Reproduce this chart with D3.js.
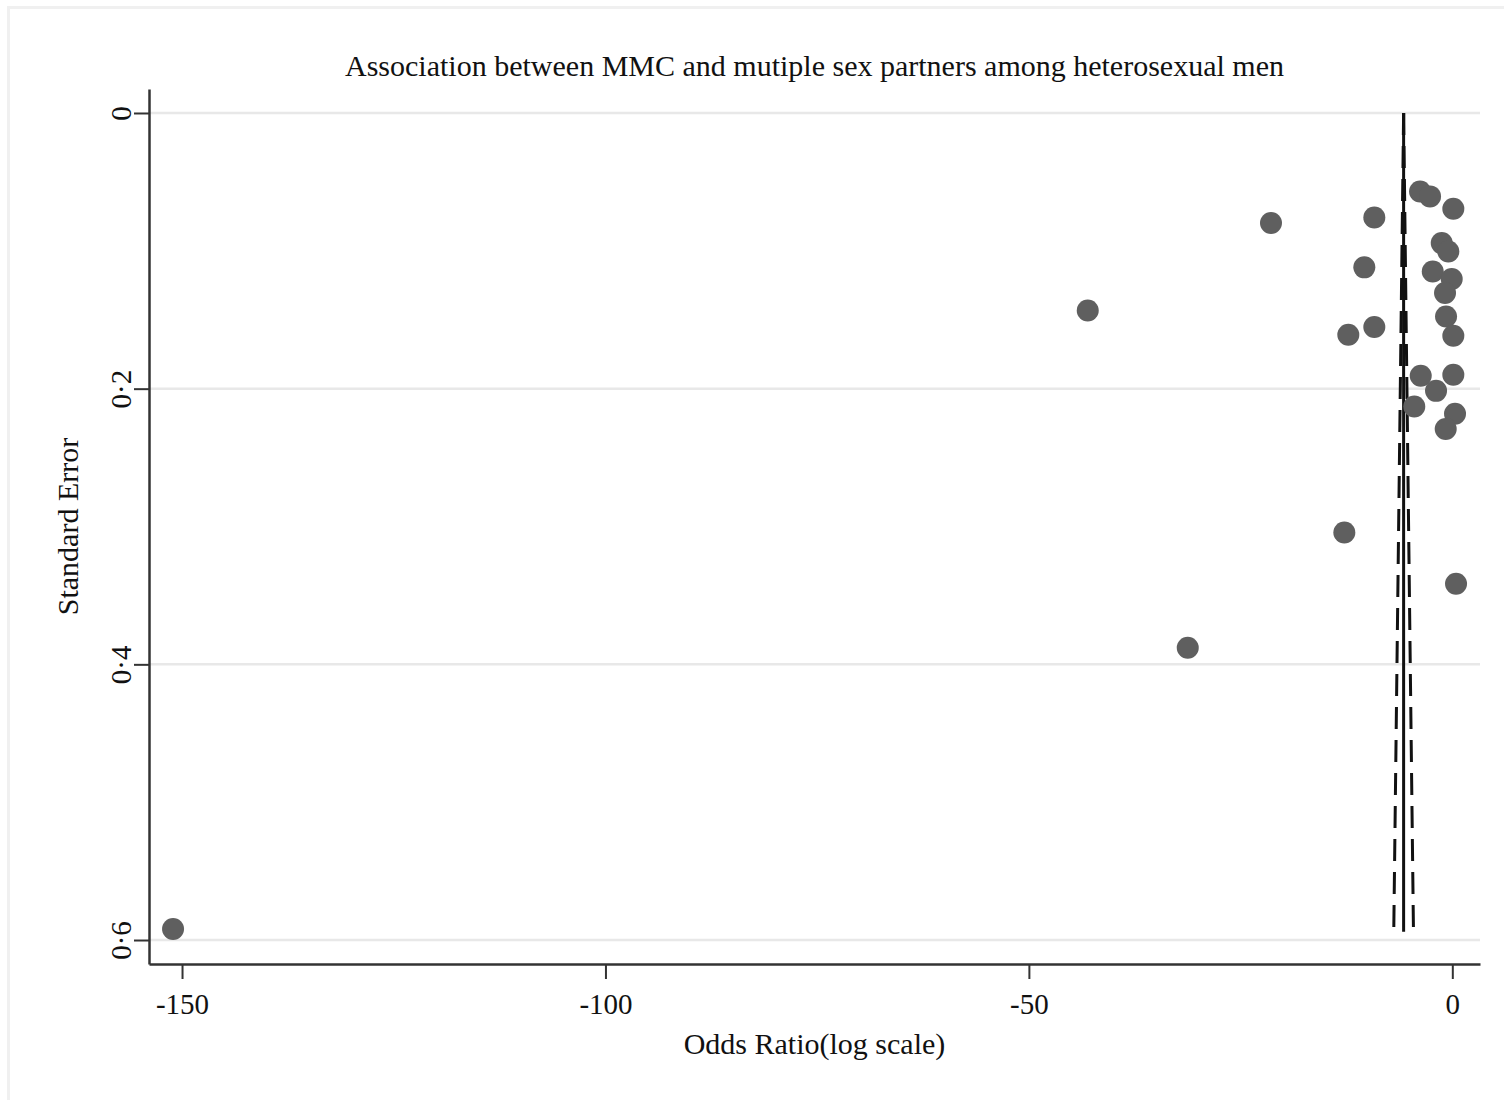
<!DOCTYPE html>
<html>
<head>
<meta charset="utf-8">
<script src="https://cdn.jsdelivr.net/npm/d3@7"></script>
<style>
  body { margin: 0; background: #fff; }
  svg { display: block; }
</style>
</head>
<body>
<svg id="chart" width="1504" height="1100"></svg>
<script>
// log odds ratio estimates and their standard errors
const logOR = [-151.06, -43.05, -21.41, -31.24, -12.75, 0.44, -9.21, -10.39, -12.28, -9.21,
  -3.81, -2.63, 0.12, -1.25, -0.47, -2.31, -0.07, -0.86, -0.74, 0.12,
  -3.73, 0.12, -1.92, -4.49, 0.32, -0.78];
const stdErr = [0.592, 0.1433, 0.0798, 0.3879, 0.3044, 0.3416, 0.0758, 0.1120, 0.1609, 0.1553,
  0.0569, 0.0605, 0.0695, 0.0944, 0.1005, 0.1150, 0.1205, 0.1306, 0.1476, 0.1616,
  0.1907, 0.1899, 0.2016, 0.2129, 0.2182, 0.2293];
const pooled = -5.75;
const xTicks = [-150, -100, -50, 0];
const xTickLabels = ['-150', '-100', '-50', '0'];
const yTicks = [0, 0.2, 0.4, 0.6];
const yTickLabels = ['0', '0·2', '0·4', '0·6'];

const points = logOR.map((v, i) => ({ v, se: stdErr[i] }));

const svg = d3.select('#chart');
const font = '"Liberation Serif", "Times New Roman", serif';

const margin = { top: 89, right: 24, bottom: 136, left: 149 };
const width = 1504, height = 1100;

const x = d3.scaleLinear()
  .domain([-153.9, 3.27])
  .range([margin.left, width - margin.right]);

const y = d3.scaleLinear()
  .domain([-0.0174, 0.6174])
  .range([margin.top, height - margin.bottom]);

// outer frame
svg.append('rect')
  .attr('x', 8.5).attr('y', 7.5)
  .attr('width', 1520).attr('height', 1120)
  .attr('fill', 'none')
  .attr('stroke', '#f0f0f0')
  .attr('stroke-width', 3);

// horizontal grid
svg.append('g')
  .selectAll('line')
  .data(yTicks)
  .join('line')
  .attr('x1', margin.left)
  .attr('x2', width - margin.right)
  .attr('y1', d => y(d))
  .attr('y2', d => y(d))
  .attr('stroke', '#e8e8e8')
  .attr('stroke-width', 2.5);

// funnel limits
const seMax = d3.max(points, d => d.se);
const funnel = [0, seMax];
const line = d3.line().x(d => x(d[0])).y(d => y(d[1]));

svg.append('path')
  .datum(funnel.map(s => [pooled - 1.96 * s, s]))
  .attr('d', line)
  .attr('fill', 'none')
  .attr('stroke', '#111')
  .attr('stroke-width', 3)
  .attr('stroke-dasharray', '22,11');

svg.append('path')
  .datum(funnel.map(s => [pooled + 1.96 * s, s]))
  .attr('d', line)
  .attr('fill', 'none')
  .attr('stroke', '#111')
  .attr('stroke-width', 3)
  .attr('stroke-dasharray', '22,11');

svg.append('path')
  .datum([[pooled, 0], [pooled, seMax + 0.002]])
  .attr('d', line)
  .attr('fill', 'none')
  .attr('stroke', '#111')
  .attr('stroke-width', 3);

// study points
svg.append('g')
  .selectAll('circle')
  .data(points)
  .join('circle')
  .attr('cx', d => x(d.v))
  .attr('cy', d => y(d.se))
  .attr('r', 11)
  .attr('fill', '#5f5f5f');

// axes
const xAxis = svg.append('g')
  .attr('transform', `translate(0,${height - margin.bottom})`)
  .call(d3.axisBottom(x).tickValues(xTicks).tickSize(15).tickSizeOuter(0).tickPadding(14)
    .tickFormat((d, i) => xTickLabels[i]));

const yAxis = svg.append('g')
  .attr('transform', `translate(${margin.left},0)`)
  .call(d3.axisLeft(y).tickValues(yTicks).tickSize(15).tickSizeOuter(0)
    .tickFormat((d, i) => yTickLabels[i]));

[xAxis, yAxis].forEach(g => {
  g.select('.domain').attr('stroke', '#333').attr('stroke-width', 2.5);
  g.selectAll('.tick line').attr('stroke', '#333').attr('stroke-width', 2);
  g.selectAll('text').attr('fill', '#111').style('font-family', font).style('font-size', '29px');
});

yAxis.selectAll('.tick text')
  .attr('x', null).attr('dy', null)
  .attr('text-anchor', 'middle')
  .attr('transform', 'translate(-27,0) rotate(-90)')
  .attr('dy', '0.32em');

xAxis.selectAll('.tick text').attr('dy', '0.71em');

// titles
svg.append('text')
  .attr('x', (margin.left + width - margin.right) / 2)
  .attr('y', 76)
  .attr('text-anchor', 'middle')
  .style('font-family', font)
  .style('font-size', '30px')
  .attr('fill', '#111')
  .text('Association between MMC and mutiple sex partners among heterosexual men');

svg.append('text')
  .attr('x', (margin.left + width - margin.right) / 2)
  .attr('y', 1054)
  .attr('text-anchor', 'middle')
  .style('font-family', font)
  .style('font-size', '30px')
  .attr('fill', '#111')
  .text('Odds Ratio(log scale)');

svg.append('text')
  .attr('transform', `translate(78,${(margin.top + height - margin.bottom) / 2}) rotate(-90)`)
  .attr('text-anchor', 'middle')
  .style('font-family', font)
  .style('font-size', '30px')
  .attr('fill', '#111')
  .text('Standard Error');
</script>
</body>
</html>
